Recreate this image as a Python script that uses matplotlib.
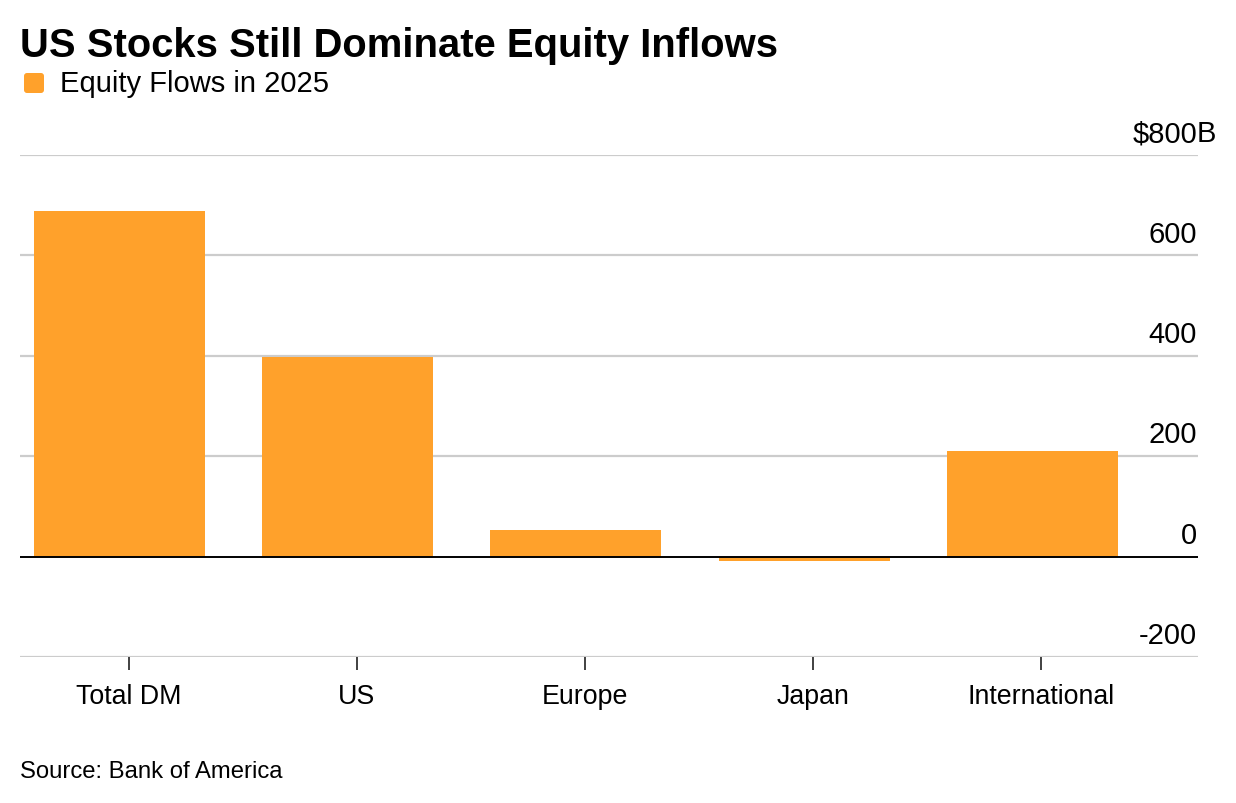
import matplotlib
matplotlib.use('Agg')
import matplotlib.pyplot as plt
from matplotlib.patches import FancyBboxPatch
from matplotlib.transforms import IdentityTransform
import numpy as np

plt.rcParams['font.family'] = ['Liberation Sans', 'DejaVu Sans']

# data (billions of dollars)
regions = ['Total DM', 'US', 'Europe', 'Japan', 'International']
flows = [688, 398, 52, -8, 210]
y_ticks = [-200, 0, 200, 400, 600, 800]

bar_color = '#FFA12B'
grid_color = '#CCCCCC'

W, H = 1236, 804
fig = plt.figure(figsize=(W / 100, H / 100), dpi=100)
ax = fig.add_axes([20 / W, 1 - 658 / H, 1178 / W, (658 - 156) / H])

x = np.arange(len(regions))
ax.bar(x, flows, width=0.75, color=bar_color, zorder=2)

ax.set_xlim(-0.436, 4.726)
ax.set_ylim(-200, 800)

for v in y_ticks:
    ax.axhline(v, color='black' if v == 0 else grid_color,
               lw=1.4 if v == 0 else 1.6, zorder=3 if v == 0 else 1)

# y labels sit above the gridlines, right side
for v in y_ticks:
    lab = f'{v}'
    if v == 800:
        ax.annotate('$800', xy=(0.9992, v), xycoords=ax.get_yaxis_transform(),
                    xytext=(0, 10), textcoords='offset points',
                    ha='right', va='baseline', fontsize=21)
        ax.annotate('B', xy=(0.9992, v), xycoords=ax.get_yaxis_transform(),
                    xytext=(0, 10), textcoords='offset points',
                    ha='left', va='baseline', fontsize=21)
    else:
        ax.annotate(lab, xy=(0.9992, v), xycoords=ax.get_yaxis_transform(),
                    xytext=(0, 10), textcoords='offset points',
                    ha='right', va='baseline', fontsize=21)

ax.set_yticks([])
ax.set_xticks(x + 0.04)
ax.set_xticklabels(regions, fontsize=19.3)
ax.tick_params(axis='x', length=9.5, width=1.3, color='#333333', pad=9.5)
for s in ax.spines.values():
    s.set_visible(False)

fig.text(20 / W, 1 - 57 / H, 'US Stocks Still Dominate Equity Inflows',
         fontsize=28.8, fontweight='bold', va='baseline', ha='left')
fig.add_artist(FancyBboxPatch((24, H - 94), 20, 20,
                              boxstyle='round,pad=0,rounding_size=3',
                              transform=IdentityTransform(),
                              facecolor=bar_color, edgecolor='none'))
fig.text(60 / W, 1 - 92 / H, 'Equity Flows in 2025', fontsize=21,
         va='baseline', ha='left')
fig.text(20 / W, 1 - 778 / H, 'Source: Bank of America', fontsize=17.2,
         va='baseline', ha='left')

fig.savefig('out.png', dpi=100)
